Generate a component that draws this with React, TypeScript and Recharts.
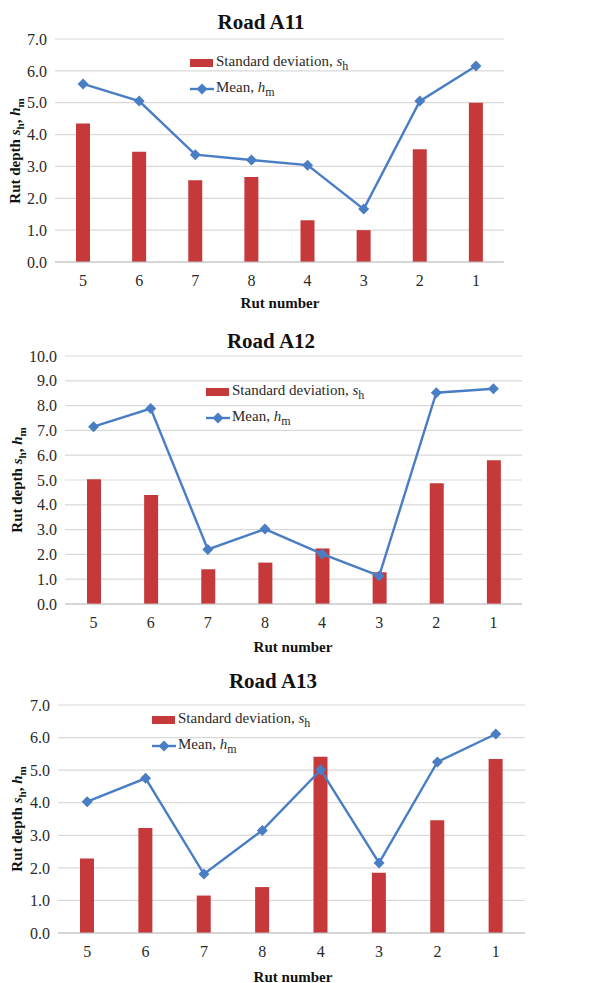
import React from "react";
import { ComposedChart, Bar, Line, XAxis, YAxis, CartesianGrid } from "recharts";

// ── data ────────────────────────────────────────────────────────────────────
const ruts = ["5", "6", "7", "8", "4", "3", "2", "1"];

const a11Sd = [4.35, 3.46, 2.57, 2.67, 1.31, 1.0, 3.54, 5.0];
const a11Mean = [5.59, 5.05, 3.37, 3.2, 3.04, 1.66, 5.05, 6.15];

const a12Sd = [5.03, 4.4, 1.4, 1.67, 2.24, 1.28, 4.87, 5.8];
const a12Mean = [7.15, 7.88, 2.2, 3.02, 2.02, 1.13, 8.52, 8.68];

const a13Sd = [2.29, 3.22, 1.15, 1.41, 5.41, 1.85, 3.46, 5.34];
const a13Mean = [4.03, 4.75, 1.81, 3.15, 5.01, 2.15, 5.25, 6.11];

const ticks7 = [0, 1, 2, 3, 4, 5, 6, 7];
const ticks10 = [0, 1, 2, 3, 4, 5, 6, 7, 8, 9, 10];

const RED = "#c5393b";
const BLUE = "#4a7ec4";
const FONT = "'Liberation Serif', 'Times New Roman', serif";

const Diamond = (props: any) => {
  const { cx, cy } = props;
  if (cx == null || cy == null) return null;
  const r = 5.5;
  return <polygon key={`d-${cx}`} points={`${cx},${cy - r} ${cx + r},${cy} ${cx},${cy + r} ${cx - r},${cy}`} fill={BLUE} />;
};

// ── one panel ─────────────────────────────────────────────────────────────────
type PanelProps = {
  title: string;
  sd: number[];
  mean: number[];
  ticks: number[];
  top: number;
  height: number;
  plotTop: number;
  plotBottom: number;
  plotLeft: number;
  plotRight: number;
  titleX: number;
  titleY: number;
  xLabelX: number;
  xLabelY: number;
  yLabelX: number;
  legendX: number;
  legendY: number;
};

function Panel(p: PanelProps) {
  const data = ruts.map((r, i) => ({ rut: r, sd: p.sd[i], mean: p.mean[i] }));
  const xAxisH = 30;
  const max = p.ticks[p.ticks.length - 1];
  return (
    <div style={{ position: "absolute", left: 0, top: p.top, width: 606, height: p.height, fontFamily: FONT }}>
      <ComposedChart
        width={606}
        height={p.height}
        data={data}
        margin={{ top: p.plotTop, right: 606 - p.plotRight, left: 0, bottom: p.height - p.plotBottom - xAxisH }}
      >
        <CartesianGrid vertical={false} stroke="#d9d9d9" strokeWidth={1.2} />
        <XAxis
          dataKey="rut"
          height={xAxisH}
          tickLine={false}
          axisLine={{ stroke: "#bfbfbf", strokeWidth: 1.2 }}
          tickMargin={7}
          tick={{ fontSize: 16, fill: "#2a2a2a", fontFamily: FONT }}
        />
        <YAxis
          width={p.plotLeft}
          domain={[0, max]}
          ticks={p.ticks}
          interval={0}
          tickFormatter={(v) => Number(v).toFixed(1)}
          tickLine={false}
          axisLine={false}
          tick={{ fontSize: 16, fill: "#2a2a2a", fontFamily: FONT }}
        />
        <Bar dataKey="sd" fill={RED} barSize={14} isAnimationActive={false} />
        <Line dataKey="mean" stroke={BLUE} strokeWidth={2.4} dot={Diamond} activeDot={false} isAnimationActive={false} />
      </ComposedChart>

      {/* title */}
      <div style={{ position: "absolute", left: p.titleX, top: p.titleY, transform: "translate(-50%, -50%)", fontSize: 21, fontWeight: 700, whiteSpace: "nowrap", color: "#111" }}>
        {p.title}
      </div>
      {/* x label */}
      <div style={{ position: "absolute", left: p.xLabelX, top: p.xLabelY, transform: "translate(-50%, -50%)", fontSize: 15, fontWeight: 700, whiteSpace: "nowrap", color: "#111" }}>
        Rut number
      </div>
      {/* y label */}
      <div style={{ position: "absolute", left: p.yLabelX, top: (p.plotTop + p.plotBottom) / 2, transform: "translate(-50%, -50%) rotate(-90deg)", fontSize: 15, fontWeight: 700, whiteSpace: "nowrap", color: "#111" }}>
        Rut depth <i>s</i><sub style={{ fontSize: 11, fontStyle: "normal" }}>h</sub>, <i>h</i><sub style={{ fontSize: 11 }}>m</sub>
      </div>
      {/* legend */}
      <div style={{ position: "absolute", left: p.legendX, top: p.legendY, fontSize: 15, color: "#2a2a2a" }}>
        <div style={{ display: "flex", alignItems: "center", height: 26 }}>
          <span style={{ display: "inline-block", width: 23, height: 8, background: RED, marginRight: 3 }} />
          <span>Standard deviation, <i>s</i><sub style={{ fontSize: 12 }}>h</sub></span>
        </div>
        <div style={{ display: "flex", alignItems: "center", height: 26 }}>
          <svg width={24} height={12} style={{ marginRight: 2 }}>
            <line x1={0} y1={6} x2={24} y2={6} stroke={BLUE} strokeWidth={2.4} />
            <polygon points="12,0.5 17.5,6 12,11.5 6.5,6" fill={BLUE} />
          </svg>
          <span>Mean, <i>h</i><sub style={{ fontSize: 12 }}>m</sub></span>
        </div>
      </div>
    </div>
  );
}

export default function App() {
  return (
    <div style={{ position: "absolute", left: 0, top: 0, width: 606, height: 983, background: "#fff" }}>
      <Panel title="Road A11" sd={a11Sd} mean={a11Mean} ticks={ticks7}
        top={0} height={320} plotTop={39} plotBottom={262} plotLeft={55} plotRight={504}
        titleX={261} titleY={22} xLabelX={280} xLabelY={303} yLabelX={16} legendX={190} legendY={50} />
      <Panel title="Road A12" sd={a12Sd} mean={a12Mean} ticks={ticks10}
        top={320} height={335} plotTop={36} plotBottom={284} plotLeft={65} plotRight={522}
        titleX={271} titleY={21} xLabelX={293} xLabelY={327} yLabelX={18} legendX={206} legendY={59} />
      <Panel title="Road A13" sd={a13Sd} mean={a13Mean} ticks={ticks7}
        top={640} height={343} plotTop={65} plotBottom={293} plotLeft={58} plotRight={525}
        titleX={273} titleY={41} xLabelX={293} xLabelY={337} yLabelX={18} legendX={152} legendY={67} />
    </div>
  );
}
